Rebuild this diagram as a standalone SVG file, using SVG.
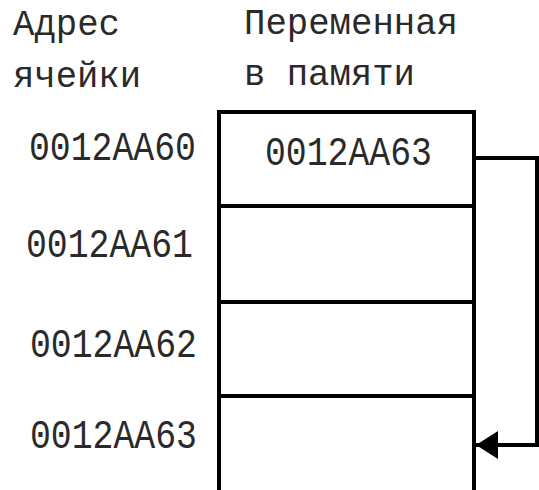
<svg xmlns="http://www.w3.org/2000/svg" width="539" height="490" viewBox="0 0 539 490">
  <style>
    .lbl { font-family: "Courier New", "Liberation Mono", monospace; fill: #2a2a2a; }
    .hdr { font-size: 37px; }
    .num { font-size: 41px; }
    .cell { fill: none; stroke: #000; stroke-width: 4; }
    .wire { fill: none; stroke: #000; stroke-width: 4; }
  </style>
  <defs>
    <marker id="head" markerUnits="userSpaceOnUse" markerWidth="24" markerHeight="28" refX="22" refY="14" orient="auto">
      <path d="M0,0 L22,14 L0,28 Z" fill="#000"/>
    </marker>
  </defs>
  <rect width="539" height="490" fill="#fff"/>

  <!-- column headings -->
  <g id="heading-address">
    <text class="lbl hdr" x="13" y="35" textLength="107" lengthAdjust="spacingAndGlyphs">Адрес</text>
    <text class="lbl hdr" x="13" y="87" textLength="128" lengthAdjust="spacingAndGlyphs">ячейки</text>
  </g>
  <g id="heading-variable">
    <text class="lbl hdr" x="244" y="34" textLength="214" lengthAdjust="spacingAndGlyphs">Переменная</text>
    <text class="lbl hdr" x="244" y="85" textLength="171" lengthAdjust="spacingAndGlyphs">в памяти</text>
  </g>

  <!-- memory cells -->
  <g id="cell-60">
    <path class="cell" d="M219,490 V112 H474 V206"/>
    <text class="lbl num" x="265" y="165" textLength="167" lengthAdjust="spacingAndGlyphs">0012AA63</text>
  </g>
  <g id="cell-61">
    <path class="cell" d="M219,206 H474 V302"/>
  </g>
  <g id="cell-62">
    <path class="cell" d="M219,302 H474 V396"/>
  </g>
  <g id="cell-63">
    <path class="cell" d="M219,396 H474 V490"/>
  </g>

  <!-- addresses -->
  <g id="addr-60"><text class="lbl num" x="29" y="160" textLength="167" lengthAdjust="spacingAndGlyphs">0012AA60</text></g>
  <g id="addr-61"><text class="lbl num" x="26" y="257" textLength="167" lengthAdjust="spacingAndGlyphs">0012AA61</text></g>
  <g id="addr-62"><text class="lbl num" x="30" y="357" textLength="167" lengthAdjust="spacingAndGlyphs">0012AA62</text></g>
  <g id="addr-63"><text class="lbl num" x="30" y="448" textLength="167" lengthAdjust="spacingAndGlyphs">0012AA63</text></g>

  <!-- pointer connector -->
  <g id="connectors">
    <path class="wire" d="M474,158 H537 V445 H476" marker-end="url(#head)"/>
  </g>
</svg>
